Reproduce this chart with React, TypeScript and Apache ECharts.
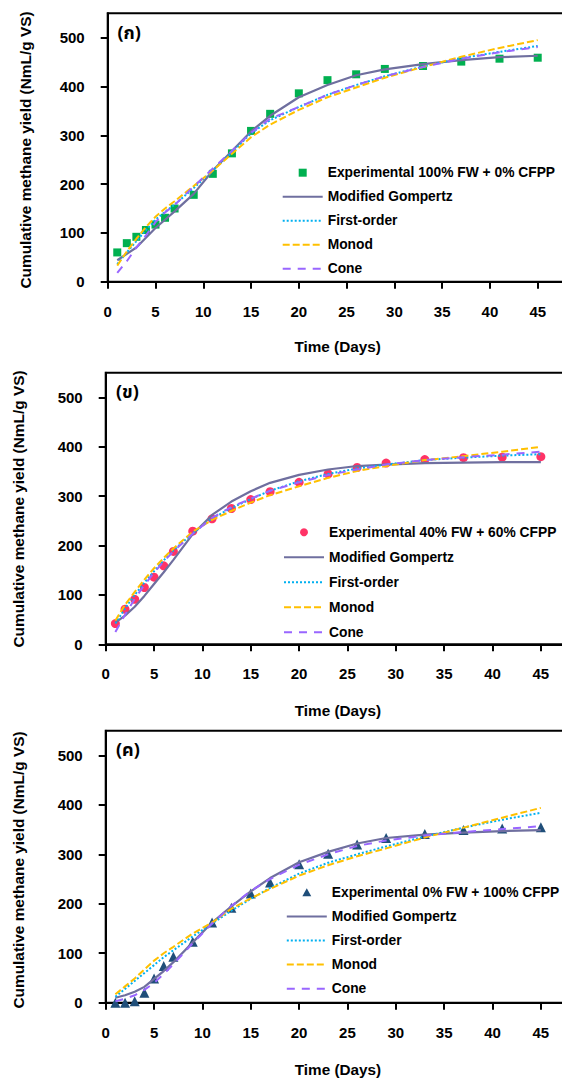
import React, { useEffect, useRef } from 'react';
import * as echarts from 'echarts';

const days = [1, 2, 3, 4, 5, 6, 7, 9, 11, 13, 15, 17, 20, 23, 26, 29, 33, 37, 41, 45];
const xTicks = [0, 5, 10, 15, 20, 25, 30, 35, 40, 45];
const yTicks = [0, 100, 200, 300, 400, 500];
const modelNames = ['Modified Gompertz', 'First-order', 'Monod', 'Cone'];

// Panel (ก) 100% FW + 0% CFPP
const expA = [60, 79, 92, 106, 117, 131, 150, 178, 221, 263, 309, 344, 386, 413, 425, 436, 442, 451, 457, 459];
const gompA = [44, 57, 70, 90, 110, 127, 144, 180, 228, 268, 308, 340, 378, 403, 423, 435, 446, 454, 460, 463];
const firstA = [36, 60, 83, 106, 127, 143, 158, 192, 228, 265, 304, 331, 358, 383, 403, 421, 441, 458, 471, 483];
const monodA = [33, 62, 88, 112, 133, 150, 165, 196, 228, 262, 296, 322, 352, 378, 398, 418, 440, 461, 479, 495];
const coneA = [18, 42, 70, 95, 122, 142, 157, 195, 232, 268, 305, 334, 358, 383, 403, 421, 440, 457, 470, 481];

// Panel (ข) 40% FW + 60% CFPP
const expB = [42, 71, 91, 115, 136, 159, 188, 229, 254, 275, 293, 309, 328, 345, 358, 367, 374, 378, 379, 380];
const gompB = [44, 58, 76, 98, 122, 146, 171, 223, 262, 289, 310, 327, 343, 354, 361, 364, 367, 368, 369, 369];
const firstB = [42, 73, 100, 125, 148, 170, 190, 225, 255, 276, 294, 311, 330, 345, 356, 364, 373, 378, 382, 385];
const monodB = [48, 80, 106, 131, 154, 175, 194, 228, 252, 270, 287, 302, 320, 337, 351, 361, 373, 381, 390, 400];
const coneB = [25, 60, 92, 120, 145, 168, 188, 224, 256, 278, 295, 311, 328, 343, 354, 364, 373, 379, 384, 390];

// Panel (ค) 0% FW + 100% CFPP
const expC = [0, 0, 3, 20, 49, 74, 93, 123, 162, 192, 221, 243, 280, 301, 320, 333, 341, 349, 352, 355];
const gompC = [10, 15, 22, 32, 48, 64, 82, 122, 162, 195, 225, 252, 284, 305, 322, 333, 340, 344, 347, 349];
const firstC = [12, 28, 44, 60, 76, 92, 106, 134, 160, 186, 210, 232, 261, 283, 300, 316, 336, 354, 370, 384];
const monodC = [17, 33, 49, 67, 85, 100, 113, 140, 162, 190, 211, 230, 257, 278, 296, 312, 334, 354, 374, 394];
const coneC = [3, 8, 15, 26, 40, 58, 78, 120, 160, 196, 226, 250, 279, 300, 317, 328, 338, 345, 351, 357];

const FONT = 'Liberation Sans, Arial, Helvetica, sans-serif';
const THAI_FONT = 'Noto Sans Thai, Noto Sans, Tlwg Typo, Loma, Garuda, DejaVu Sans, Liberation Sans, sans-serif';

const CHART_W = 640;
const CHART_H = 1079;

const panels = [
  {
    grid: { left: 107.7, top: 13.3, width: 477.8, height: 268.4 },
    expName: 'Experimental 100% FW + 0% CFPP', exp: expA, symbol: 'rect', symbolSize: 8, color: '#00b050',
    icon: 'path://M0,0H10V10H0Z',
    models: [gompA, firstA, monodA, coneA],
    legend: { left: 281.7, top: 164.7, itemGap: 8 },
    label: '(ก)', labelPos: [117.5, 33.3], yTitle: [25, 150], xTitle: [337.6, 346.7],
  },
  {
    grid: { left: 105.7, top: 372.7, width: 483.5, height: 271.6 },
    expName: 'Experimental 40% FW + 60% CFPP', exp: expB, symbol: 'circle', symbolSize: 9, color: '#ff3366',
    icon: 'circle',
    models: [gompB, firstB, monodB, coneB],
    legend: { left: 283, top: 524.3, itemGap: 9 },
    label: '(ข)', labelPos: [116, 392.3], yTitle: [18, 509], xTitle: [338, 710.7],
  },
  {
    grid: { left: 105.7, top: 730.7, width: 483.5, height: 272 },
    expName: 'Experimental 0% FW + 100% CFPP', exp: expC, symbol: 'triangle', symbolSize: 10, color: '#1f4e79',
    icon: 'path://M5,0L10,9H0Z',
    models: [gompC, firstC, monodC, coneC],
    legend: { left: 285.8, top: 884.3, itemGap: 8.1 },
    label: '(ค)', labelPos: [116, 750.7], yTitle: [18, 870], xTitle: [338, 1069.3],
  },
];

const modelStyles = [
  { color: '#6f6f9f', width: 2.2, type: 'solid' as any },
  { color: '#00b0f0', width: 2, type: [2, 2] as any },
  { color: '#ffc000', width: 2, type: [7, 3] as any },
  { color: '#9966ff', width: 2, type: [8, 7] as any },
];

function buildOption() {
  const grid: any[] = [];
  const xAxis: any[] = [];
  const yAxis: any[] = [];
  const series: any[] = [];
  const legend: any[] = [];
  const graphic: any[] = [];

  panels.forEach((p, i) => {
    grid.push({ ...p.grid, show: true, borderColor: '#000', borderWidth: 2, backgroundColor: 'transparent' });
    xAxis.push({
      gridIndex: i, type: 'value', min: 0, max: 50, interval: 5,
      axisLine: { show: true, onZero: false, lineStyle: { color: '#000', width: 2 } },
      axisTick: { show: true, inside: false, length: 7, lineStyle: { color: '#000', width: 2 }, customValues: xTicks },
      axisLabel: {
        margin: 22, fontFamily: FONT, fontWeight: 'bold', fontSize: 15, color: '#000', customValues: xTicks,
        formatter: (v: number) => (v <= 45 ? String(v) : ''),
      },
      splitLine: { show: false },
    });
    yAxis.push({
      gridIndex: i, type: 'value', min: 0, max: 550, interval: 100,
      axisLine: { show: true, onZero: false, lineStyle: { color: '#000', width: 2 } },
      axisTick: { show: true, inside: false, length: 7, lineStyle: { color: '#000', width: 2 }, customValues: yTicks },
      axisLabel: {
        margin: 23, fontFamily: FONT, fontWeight: 'bold', fontSize: 15, color: '#000', customValues: yTicks,
        formatter: (v: number) => (v % 100 === 0 && v <= 500 ? String(v) : ''),
      },
      splitLine: { show: false },
    });
    series.push({
      name: p.expName, type: 'scatter', xAxisIndex: i, yAxisIndex: i,
      symbol: p.symbol, symbolSize: p.symbolSize,
      itemStyle: { color: p.color, opacity: 1 },
      data: days.map((d, k) => [d, p.exp[k]]),
      z: 2,
    });
    p.models.forEach((vals, m) => {
      const st = modelStyles[m];
      series.push({
        name: modelNames[m], type: 'line', xAxisIndex: i, yAxisIndex: i,
        symbol: 'none', showSymbol: false, smooth: false,
        color: st.color,
        lineStyle: { color: st.color, width: st.width, type: st.type },
        itemStyle: { color: st.color },
        data: days.map((d, k) => [d, vals[k]]),
        z: 3,
      });
    });
    legend.push({
      orient: 'vertical', left: p.legend.left, top: p.legend.top, padding: 0,
      itemWidth: 40, itemHeight: 8, itemGap: p.legend.itemGap,
      selectedMode: false,
      data: [
        { name: p.expName, icon: p.icon },
        ...modelNames.map((n) => ({ name: n, itemStyle: { opacity: 0 } })),
      ],
      textStyle: { fontFamily: FONT, fontWeight: 'bold', fontSize: 13.8, color: '#000', lineHeight: 16 },
    });
    graphic.push({
      type: 'text', x: p.labelPos[0], y: p.labelPos[1],
      style: { text: p.label, fontFamily: THAI_FONT, fontWeight: 'bold', fontSize: 18, fill: '#000', align: 'left', verticalAlign: 'middle' },
    });
    graphic.push({
      type: 'text', x: p.yTitle[0], y: p.yTitle[1], rotation: Math.PI / 2,
      style: { text: 'Cumulative methane yield (NmL/g VS)', fontFamily: FONT, fontWeight: 'bold', fontSize: 15.4, fill: '#000', align: 'center', verticalAlign: 'middle' },
    });
    graphic.push({
      type: 'text', x: p.xTitle[0], y: p.xTitle[1],
      style: { text: 'Time (Days)', fontFamily: FONT, fontWeight: 'bold', fontSize: 15.3, fill: '#000', align: 'center', verticalAlign: 'middle' },
    });
  });

  return { animation: false, backgroundColor: '#fff', grid, xAxis, yAxis, series, legend, graphic };
}

export default function App() {
  const ref = useRef<HTMLDivElement>(null);
  useEffect(() => {
    if (!ref.current) return;
    const chart = echarts.init(ref.current, null, { renderer: 'svg', width: CHART_W, height: CHART_H });
    chart.setOption(buildOption() as any);
    return () => chart.dispose();
  }, []);
  return (
    <div style={{ position: 'fixed', left: 0, top: 0, width: 562, height: 1079, overflow: 'hidden', background: '#fff' }}>
      <div ref={ref} style={{ width: CHART_W, height: CHART_H }} />
    </div>
  );
}
